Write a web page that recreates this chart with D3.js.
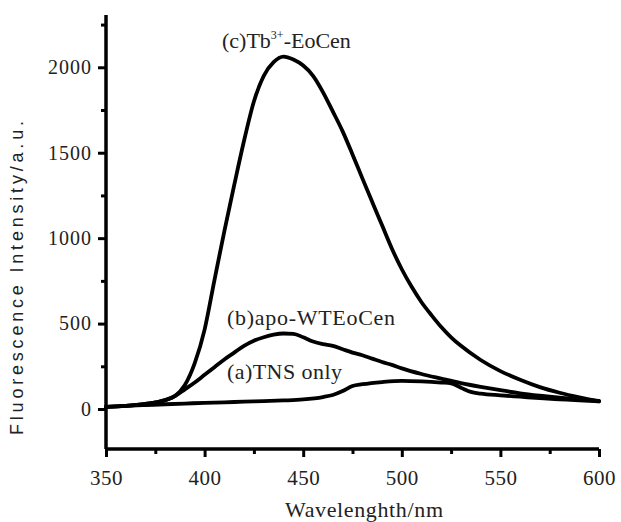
<!DOCTYPE html>
<html>
<head>
<meta charset="utf-8">
<script src="https://cdn.jsdelivr.net/npm/d3@7/dist/d3.min.js"></script>
<style>
  html, body { margin: 0; padding: 0; background: #fff; }
  svg { display: block; }
</style>
</head>
<body>
<svg id="chart" width="621" height="522"></svg>
<script>
// ---- Data ----
const wavelengthsC = [350,360,370,380,385,390,395,400,405,410,415,420,425,430,435,440,445,450,455,460,465,470,475,480,485,490,495,500,505,510,515,520,525,530,540,550,560,570,580,590,600];
const seriesC      = [12,18,30,52,76,140,268,465,755,1040,1310,1570,1800,1950,2030,2062,2045,2010,1950,1855,1742,1625,1490,1350,1212,1075,938,818,715,625,550,480,420,370,287,222,171,128,95,68,45];

const wavelengthsB = [350,360,370,380,385,390,395,400,405,410,415,420,425,430,435,440,445,450,455,460,465,470,475,480,485,490,495,500,510,520,530,540,550,560,570,580,590,600];
const seriesB      = [12,18,30,52,76,115,155,200,245,290,330,370,400,420,435,442,440,420,395,380,370,350,330,315,295,275,258,238,205,178,152,130,110,92,78,66,56,48];

const wavelengthsA = [350,360,370,380,390,400,410,420,430,440,450,460,465,470,475,480,490,500,510,520,525,530,535,540,550,560,570,580,590,600];
const seriesA      = [12,18,23,28,32,36,39,43,46,50,56,70,82,105,135,145,158,165,162,155,150,125,100,90,80,72,64,57,50,45];

const xTicks = [350,400,450,500,550,600];
const xMinorTicks = [375,425,475,525,575];
const yTicks = [0,500,1000,1500,2000];
const yMinorTicks = [250,750,1250,1750,2250];

const labels = {
  a: "(a)TNS only",
  b: "(b)apo-WTEoCen",
  cPre: "(c)Tb", cSup: "3+", cPost: "-EoCen"
};
const xTitle = "Wavelenghth/nm";
const yTitle = "Fluorescence Intensity/a.u.";

// ---- Scales ----
const svg = d3.select("#chart");
const x = d3.scaleLinear().domain([350, 600]).range([106, 599]);
const y = d3.scaleLinear().domain([-234, 2306]).range([449, 15]);

const serif = "'Liberation Serif', 'Times New Roman', serif";
const sans = "'Liberation Sans', Arial, sans-serif";

// ---- Curves ----
const line = d3.line()
  .x(d => x(d[0]))
  .y(d => y(d[1]))
  .curve(d3.curveMonotoneX);

const allSeries = [
  d3.zip(wavelengthsA, seriesA),
  d3.zip(wavelengthsB, seriesB),
  d3.zip(wavelengthsC, seriesC)
];
svg.append("g").selectAll("path").data(allSeries).join("path")
  .attr("d", line)
  .attr("fill", "none")
  .attr("stroke", "#000")
  .attr("stroke-width", 3.8)
  .attr("stroke-linejoin", "round")
  .attr("stroke-linecap", "round");

// ---- Axes ----
const xAxis = svg.append("g").attr("transform", `translate(0,${y.range()[0]})`);
xAxis.call(d3.axisBottom(x).tickValues(xTicks).tickSize(8).tickPadding(13).tickFormat(d3.format("d")));
const xMinor = svg.append("g").attr("transform", `translate(0,${y.range()[0]})`);
xMinor.call(d3.axisBottom(x).tickValues(xMinorTicks).tickSize(5).tickFormat(""));

const yAxis = svg.append("g").attr("transform", `translate(${x.range()[0]},0)`);
yAxis.call(d3.axisLeft(y).tickValues(yTicks).tickSize(8).tickPadding(6).tickFormat(d3.format("d")));
const yMinor = svg.append("g").attr("transform", `translate(${x.range()[0]},0)`);
yMinor.call(d3.axisLeft(y).tickValues(yMinorTicks).tickSize(5).tickFormat(""));

[xAxis, xMinor, yAxis, yMinor].forEach(g => {
  g.select(".domain").attr("stroke", "#000").attr("stroke-width", 3.5);
  g.selectAll(".tick line").attr("stroke", "#000").attr("stroke-width", 3);
});
[xMinor, yMinor].forEach(g => g.select(".domain").attr("d", null));
xAxis.select(".domain").attr("d", `M${x.range()[0]},0H${x.range()[1]}`);
yAxis.select(".domain").attr("d", `M0,${y.range()[1]}V${y.range()[0]}`);

xAxis.selectAll(".tick text")
  .attr("font-family", serif).attr("font-size", 21).attr("fill", "#222")
  .attr("letter-spacing", 0.5);
yAxis.selectAll(".tick text")
  .attr("font-family", serif).attr("font-size", 20).attr("fill", "#222")
  .attr("letter-spacing", 1);

// ---- Axis titles ----
svg.append("text")
  .attr("x", 364).attr("y", 517)
  .attr("text-anchor", "middle")
  .attr("font-family", serif).attr("font-size", 22).attr("fill", "#222")
  .attr("textLength", 158).attr("lengthAdjust", "spacing")
  .text(xTitle);

svg.append("text")
  .attr("transform", "translate(23,278) rotate(-90)")
  .attr("text-anchor", "middle")
  .attr("font-family", sans).attr("font-size", 18).attr("fill", "#222")
  .attr("textLength", 314).attr("lengthAdjust", "spacing")
  .text(yTitle);

// ---- Curve labels ----
const cLabel = svg.append("text")
  .attr("x", 222).attr("y", 48)
  .attr("font-family", serif).attr("font-size", 22).attr("fill", "#222");
cLabel.append("tspan").text(labels.cPre);
cLabel.append("tspan").attr("font-size", 12).attr("dy", -9).text(labels.cSup);
cLabel.append("tspan").attr("dy", 9).text(labels.cPost);

svg.append("text")
  .attr("x", 227).attr("y", 325)
  .attr("font-family", serif).attr("font-size", 22).attr("fill", "#222")
  .attr("textLength", 168).attr("lengthAdjust", "spacing")
  .text(labels.b);

svg.append("text")
  .attr("x", 227).attr("y", 379)
  .attr("font-family", serif).attr("font-size", 22).attr("fill", "#222")
  .attr("textLength", 115).attr("lengthAdjust", "spacing")
  .text(labels.a);
</script>
</body>
</html>
